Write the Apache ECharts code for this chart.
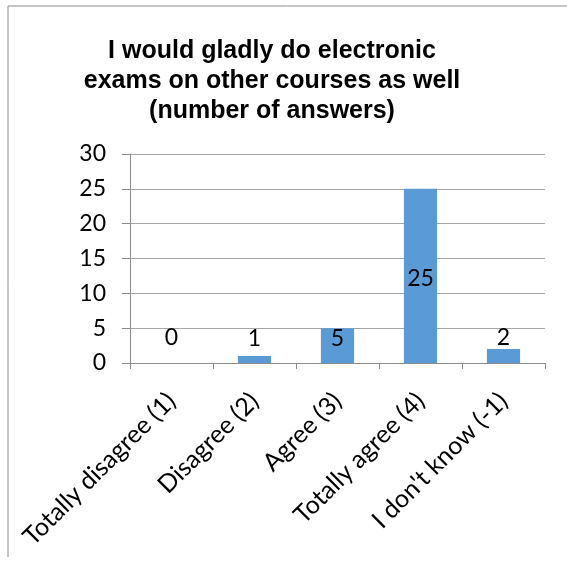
<!DOCTYPE html>
<html>
<head>
<meta charset="utf-8">
<script src="https://cdn.jsdelivr.net/npm/echarts@6/dist/echarts.min.js"></script>
<style>
  html, body { margin: 0; padding: 0; background: #fff; }
  #chart { width: 567px; height: 562px; }
</style>
</head>
<body>
<div id="chart"></div>
<script>
// categories and counts
const answerCategories = ['Totally disagree (1)', 'Disagree (2)', 'Agree (3)', 'Totally agree (4)', "I don't know (-1)"];
const answerCounts = [0, 1, 5, 25, 2];
const yTicks = [0, 5, 10, 15, 20, 25, 30];

const chart = echarts.init(document.getElementById('chart'));

// excel-ish label placement: only the tall bar has its label in the middle
const labelFor = (v) => {
    if (v >= 20) return { position: 'inside', offset: [0, 3] };
    if (v >= 5) return { position: 'insideTop', offset: [0, -6] };
    return { position: 'top', distance: Math.max(0, 14 - 8 * v) };
};

const option = {
    animation: false,
    title: {
        text: 'I would gladly do electronic\nexams on other courses as well\n(number of answers)',
        left: 267,
        textAlign: 'center',
        top: 31,
        textStyle: {
            fontFamily: 'Liberation Sans',
            fontWeight: 'bold',
            fontSize: 25,
            lineHeight: 30,
            color: '#000'
        }
    },
    graphic: [{
        type: 'polyline',
        shape: { points: [[8, 557], [8, 6], [567, 6]] },
        style: { stroke: '#8c8c8c', lineWidth: 1, fill: null }
    }],
    grid: { left: 130, right: 22, top: 154, bottom: 199 },
    xAxis: {
        type: 'category',
        data: answerCategories,
        axisLine: { lineStyle: { color: '#8c8c8c', width: 1 } },
        axisTick: { show: true, length: 6, lineStyle: { color: '#8c8c8c' } },
        axisLabel: {
            interval: 0,
            rotate: 45,
            margin: 34,
            fontFamily: 'Lato',
            fontSize: 25,
            color: '#000'
        }
    },
    yAxis: {
        type: 'value',
        min: yTicks[0],
        max: yTicks[yTicks.length - 1],
        interval: 5,
        axisLine: { show: true, lineStyle: { color: '#8c8c8c', width: 1 } },
        axisTick: { show: true, length: 8, lineStyle: { color: '#8c8c8c' } },
        splitLine: { lineStyle: { color: '#a6a6a6', width: 1 } },
        axisLabel: {
            margin: 24,
            fontFamily: 'Lato',
            fontSize: 23,
            color: '#000'
        }
    },
    series: [{
        type: 'bar',
        barWidth: '40%',
        itemStyle: { color: '#5b9bd5' },
        label: { show: true, fontFamily: 'Lato', fontSize: 23, color: '#000' },
        data: answerCounts.map(v => ({ value: v, label: labelFor(v) }))
    }]
};

chart.setOption(option);
</script>
</body>
</html>
